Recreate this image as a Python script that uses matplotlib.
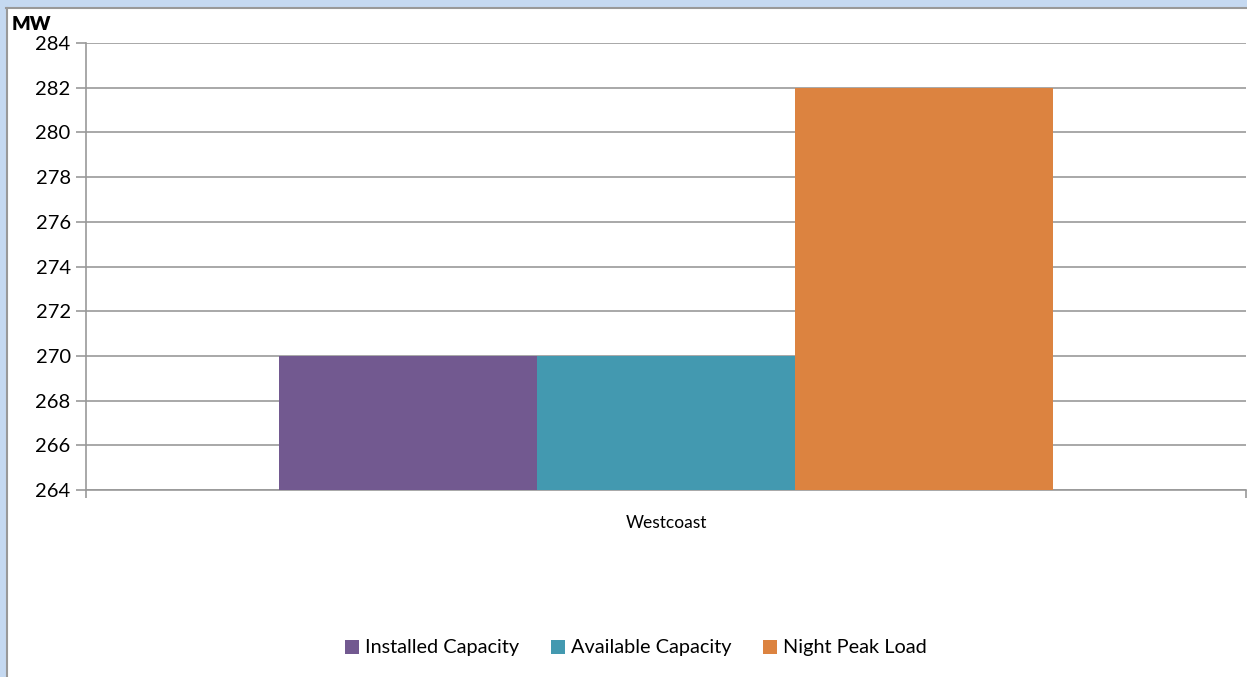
import matplotlib
matplotlib.use('Agg')
import matplotlib.pyplot as plt
from matplotlib.patches import Rectangle
from matplotlib.lines import Line2D

plt.rcParams['font.family'] = ['Lato', 'DejaVu Sans']

category = 'Westcoast'
series = ['Installed Capacity', 'Available Capacity', 'Night Peak Load']
values = [270, 270, 282]
colors = ['#725990', '#4399b0', '#dc8340']
yticks = [264, 266, 268, 270, 272, 274, 276, 278, 280, 282, 284]

W, H = 1247, 677
fig = plt.figure(figsize=(W / 100, H / 100), dpi=100)
fig.patch.set_facecolor('white')

# window frame (light blue band top and left)
fig.patches.append(Rectangle((0, 1 - 7 / H), 1, 7 / H, transform=fig.transFigure,
                             facecolor='#c5d9f1', edgecolor='none', zorder=0))
fig.patches.append(Rectangle((0, 0), 6 / W, 1, transform=fig.transFigure,
                             facecolor='#c5d9f1', edgecolor='none', zorder=0))
fig.lines.append(Line2D([6 / W, 1], [1 - 8 / H, 1 - 8 / H], transform=fig.transFigure,
                        color='#999999', lw=1.5))
fig.lines.append(Line2D([7 / W, 7 / W], [0, 1 - 8 / H], transform=fig.transFigure,
                        color='#999999', lw=1.5))

ax = fig.add_axes([86 / W, 1 - 490 / H, (1246 - 86) / W, (490 - 43) / H])
ax.set_facecolor('none')

# three bars fill 2/3 of the category, gap width 50%
bw = 2 / 9
for i, (name, v, c) in enumerate(zip(series, values, colors)):
    ax.bar((i - 1) * bw, v - yticks[0], width=bw, bottom=yticks[0], color=c,
           label=name, zorder=3)

ax.set_xlim(-0.5, 0.5)
ax.set_ylim(yticks[0], yticks[-1])
ax.set_yticks(yticks)
ax.set_xticks([0])
ax.set_xticklabels([category])
ax.set_xticks([-0.5, 0.5], minor=True)
ax.tick_params(axis='x', which='major', length=0, pad=18, labelsize=12.5)
ax.tick_params(axis='x', which='minor', length=6, color='#999999', width=1.2)
ax.tick_params(axis='y', length=7, color='#999999', width=1.2, labelsize=14.5, pad=4)
ax.grid(axis='y', color='#999999', lw=1.2, zorder=0)

for s in ['top', 'right']:
    ax.spines[s].set_visible(False)
for s in ['left', 'bottom']:
    ax.spines[s].set_color('#999999')
    ax.spines[s].set_linewidth(1.2)

fig.text(12 / W, 1 - 25 / H, 'MW', fontsize=14, fontweight='heavy', va='center', ha='left')

ax.legend(loc='center', bbox_to_anchor=(636 / W, 1 - 648 / H), bbox_transform=fig.transFigure,
          ncol=3, frameon=False, fontsize=14.3, handlelength=0.7, handleheight=0.7,
          handletextpad=0.3, columnspacing=1.6)

fig.savefig('out.png', dpi=100, facecolor='white')
